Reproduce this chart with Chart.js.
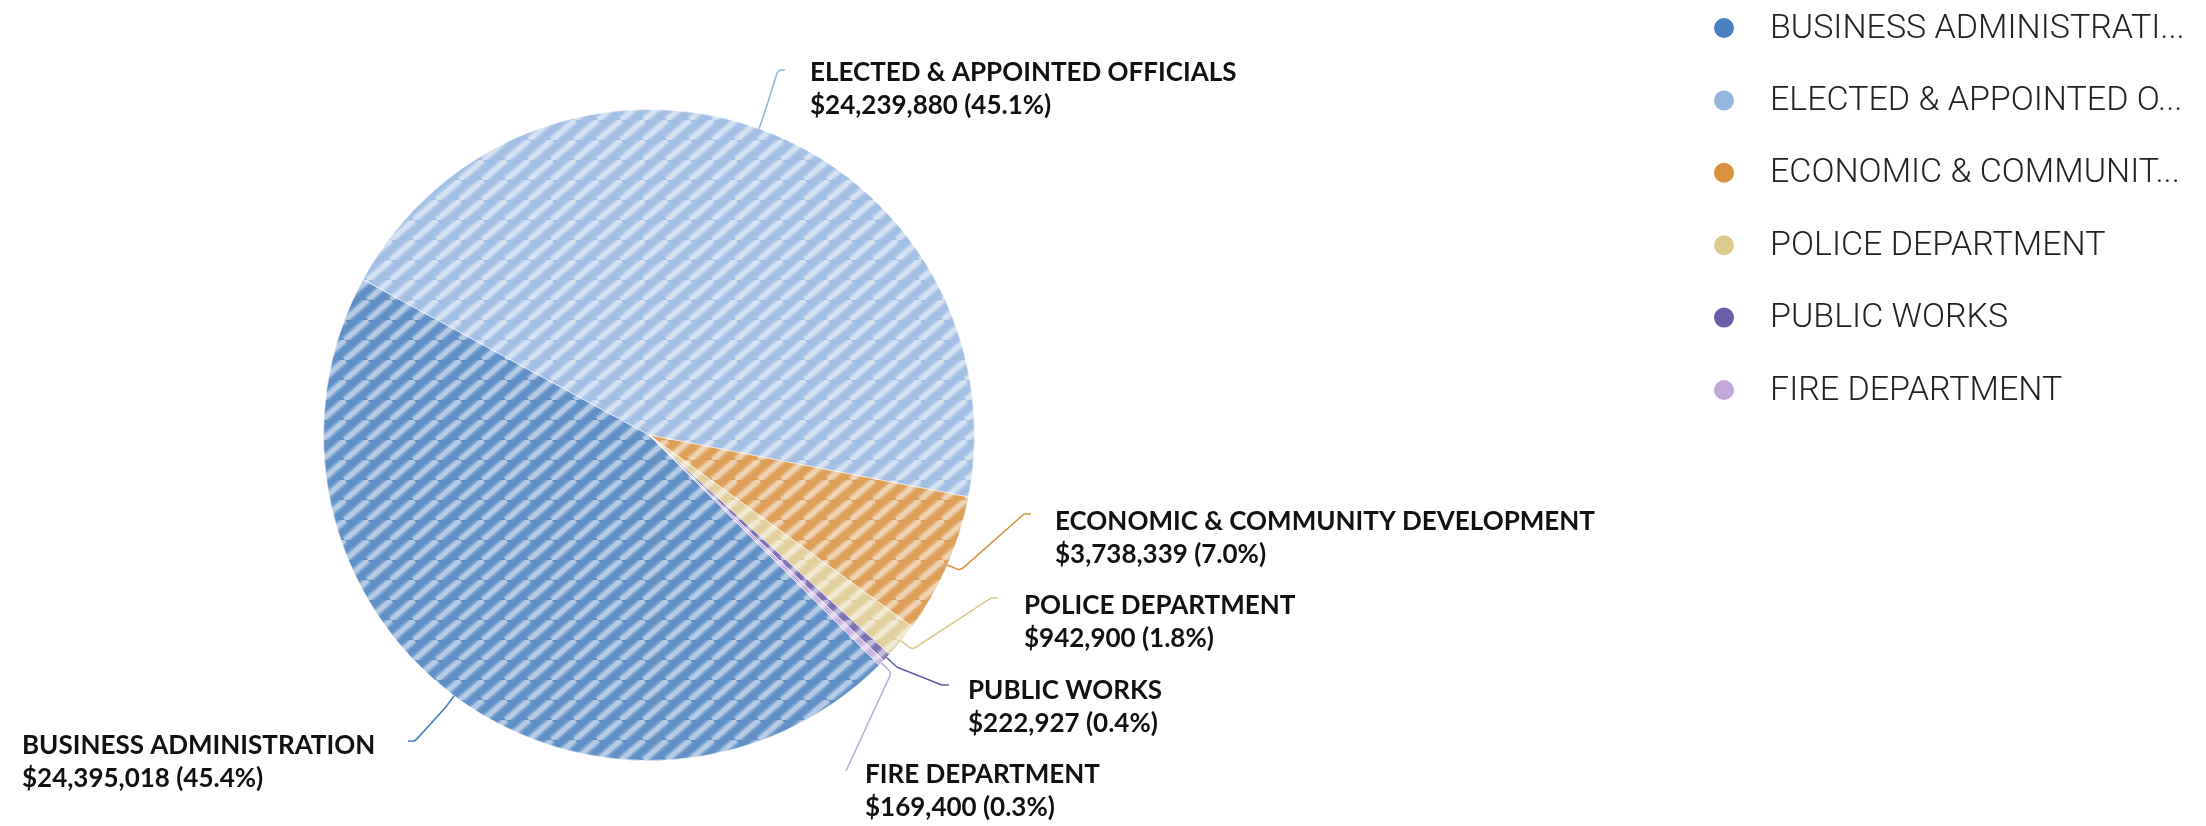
<!DOCTYPE html>
<html>
<head>
<meta charset="utf-8">
<title>Budget by department</title>
<script src="https://cdn.jsdelivr.net/npm/chart.js@4.4.1/dist/chart.umd.min.js"></script>
<style>
    html, body { margin: 0; padding: 0; background: #fff; }
    #wrap { width: 2206px; height: 826px; }
</style>
</head>
<body>
<div id="wrap"><canvas id="budget" width="2206" height="826"></canvas></div>
<script>
const departments = [
    "BUSINESS ADMINISTRATION",
    "ELECTED & APPOINTED OFFICIALS",
    "ECONOMIC & COMMUNITY DEVELOPMENT",
    "POLICE DEPARTMENT",
    "PUBLIC WORKS",
    "FIRE DEPARTMENT"
];
const amounts = [24395018, 24239880, 3738339, 942900, 222927, 169400];
const deptColors = ["#4a80bf", "#96b6e0", "#d99140", "#dcc98e", "#6a5ca8", "#c3a8da"];

// where each callout line ends and where its text sits, relative to the pie centre
const calloutSpots = [
    { lx: -241, ly: 306, tx: -627, ty: 311 },
    { lx: 136, ly: -365, tx: 161, ty: -362 },
    { lx: 382, ly: 79, tx: 406, ty: 87 },
    { lx: 349, ly: 163, tx: 375, ty: 171 },
    { lx: 300, ly: 250, tx: 319, ty: 256 },
    { lx: 197, ly: 336, tx: 216, ty: 340 }
];

const CALLOUT = { elbow: 14, hook: 7, lineGap: 32.5, font: "700 26px Lato" };
const LEGEND = { dotX: 1724, textX: 1770, top: 28, step: 72.4, radius: 10, maxWidth: 415, font: "300 34px Roboto" };

// diagonal white stripes over the slice colour
function stripePattern(color) {
    let w = 23, h = 20;
    let tile = document.createElement("canvas");
    tile.width = w;
    tile.height = h;
    let c = tile.getContext("2d");
    c.fillStyle = "#fff";
    c.fillRect(0, 0, w, h);
    c.globalAlpha = 0.87;
    c.fillStyle = color;
    c.fillRect(0, 0, w, h);
    c.globalAlpha = 1;
    [[9, 0.2], [5, 0.42]].forEach(function (s) {
        c.strokeStyle = "rgba(255,255,255," + s[1] + ")";
        c.lineWidth = s[0];
        for (let k = -1; k <= 1; k++) {
            c.beginPath();
            c.moveTo(k * w, h);
            c.lineTo(k * w + w, 0);
            c.stroke();
        }
    });
    return c.createPattern(tile, "repeat");
}

function money(v) {
    return "$" + v.toLocaleString("en-US");
}

function fitText(ctx, text, maxWidth) {
    if (ctx.measureText(text).width <= maxWidth) return text;
    let cut = text;
    while (cut.length > 1 && ctx.measureText(cut + "...").width > maxWidth) {
        cut = cut.slice(0, -1);
    }
    return cut.replace(/\s+$/, "") + "...";
}

const calloutPlugin = {
    id: "callouts",
    afterDatasetsDraw: function (chart) {
        let ctx = chart.ctx;
        let meta = chart.getDatasetMeta(0);
        let total = amounts.reduce(function (a, b) { return a + b; }, 0);

        meta.data.forEach(function (arc, i) {
            let p = arc.getProps(["x", "y", "startAngle", "endAngle", "outerRadius"], true);
            let mid = (p.startAngle + p.endAngle) / 2;
            let cos = Math.cos(mid), sin = Math.sin(mid);
            let spot = calloutSpots[i];
            let p0 = { x: p.x + cos * p.outerRadius, y: p.y + sin * p.outerRadius };
            let p1 = { x: p.x + cos * (p.outerRadius + CALLOUT.elbow), y: p.y + sin * (p.outerRadius + CALLOUT.elbow) };
            let end = { x: p.x + spot.lx, y: p.y + spot.ly };
            let side = spot.tx >= spot.lx ? 1 : -1;

            ctx.save();
            ctx.strokeStyle = deptColors[i];
            ctx.lineWidth = 1.6;
            ctx.beginPath();
            ctx.moveTo(p0.x, p0.y);
            if ((end.x - p1.x) * side > 0) {
                let corner = { x: end.x - side * CALLOUT.hook, y: end.y };
                ctx.arcTo(p1.x, p1.y, corner.x, corner.y, 6);
                ctx.arcTo(corner.x, corner.y, end.x, end.y, 5);
            } else {
                ctx.arcTo(p1.x, p1.y, end.x, end.y, 6);
            }
            ctx.lineTo(end.x, end.y);
            ctx.stroke();

            let pct = (amounts[i] / total * 100).toFixed(1);
            ctx.font = CALLOUT.font;
            ctx.fillStyle = "#111";
            ctx.textAlign = "left";
            ctx.textBaseline = "middle";
            ctx.fillText(departments[i], p.x + spot.tx, p.y + spot.ty);
            ctx.fillText(money(amounts[i]) + " (" + pct + "%)", p.x + spot.tx, p.y + spot.ty + CALLOUT.lineGap);
            ctx.restore();
        });
    }
};

const dotLegendPlugin = {
    id: "dotLegend",
    afterDraw: function (chart) {
        let ctx = chart.ctx;
        ctx.save();
        ctx.font = LEGEND.font;
        ctx.textAlign = "left";
        ctx.textBaseline = "middle";
        chart.data.labels.forEach(function (label, i) {
            let cy = LEGEND.top + i * LEGEND.step;
            ctx.fillStyle = deptColors[i];
            ctx.beginPath();
            ctx.arc(LEGEND.dotX, cy, LEGEND.radius, 0, Math.PI * 2);
            ctx.fill();
            ctx.fillStyle = "#222";
            ctx.fillText(fitText(ctx, label, LEGEND.maxWidth), LEGEND.textX, cy + 1);
        });
        ctx.restore();
    }
};

new Chart(document.getElementById("budget"), {
    type: "pie",
    data: {
        labels: departments,
        datasets: [{
            data: amounts,
            backgroundColor: deptColors.map(stripePattern),
            borderColor: "rgba(255,255,255,0.55)",
            borderWidth: 1,
            hoverOffset: 0
        }]
    },
    options: {
        responsive: false,
        devicePixelRatio: 1,
        animation: false,
        events: [],
        rotation: 135,
        layout: { padding: { left: 323, right: 1231, top: 109, bottom: 65 } },
        plugins: {
            legend: { display: false },
            tooltip: { enabled: false }
        }
    },
    plugins: [calloutPlugin, dotLegendPlugin]
});
</script>
</body>
</html>
